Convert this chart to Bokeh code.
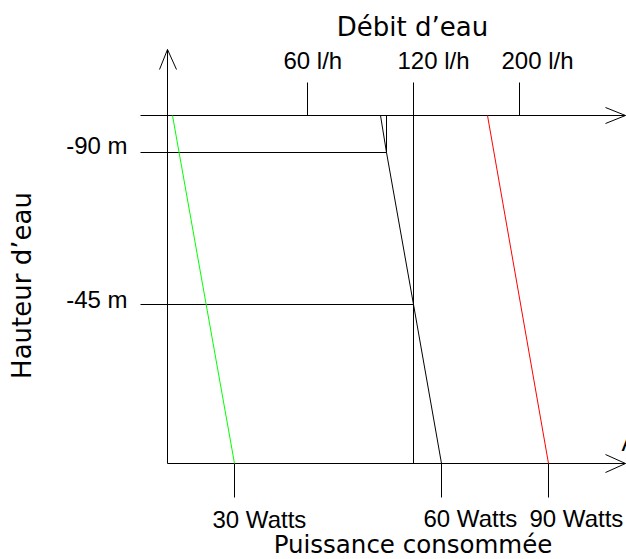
from bokeh.plotting import figure
from bokeh.models import Range1d
from bokeh.core.properties import value
from bokeh.embed import file_html
from bokeh.resources import INLINE
import math

# ---- chart values (schematic diagram units: x from vertical axis, y from bottom axis) ----
flow_labels = ["60 l/h", "120 l/h", "200 l/h"]
flow_x = [140, 246, 352]              # flow ticks on the top axis

power_labels = ["30 Watts", "60 Watts", "90 Watts"]
power_x = [67, 274, 381]              # power ticks on the bottom axis

height_labels = ["-90 m", "-45 m"]
height_y = [311, 159]                 # height levels on the vertical axis

top_level = 348                       # level of the top (flow) axis
bottom_level = 0                      # level of the bottom (power) axis

# pump curves: x position at each level
green_x = [5, 67]
green_y = [348, 0]
black_x = [213, 219, 246, 274]
black_y = [348, 311, 159, 0]
red_x = [320, 381]
red_y = [348, 0]

# ---- figure ----
p = figure(width=626, height=559, output_backend="svg", toolbar_location=None,
           x_range=Range1d(-167, 459), y_range=Range1d(-96, 463),
           min_border=0, min_border_left=0, min_border_right=0,
           min_border_top=0, min_border_bottom=0)
p.axis.visible = False
p.grid.visible = False
p.outline_line_color = None
p.background_fill_color = "white"
p.border_fill_color = "white"

lc = "black"
lw = 1

# vertical axis with arrow
p.segment(x0=[0], y0=[bottom_level], x1=[0], y1=[414], line_color=lc, line_width=lw)
p.segment(x0=[-8, 9], y0=[394, 394], x1=[0, 0], y1=[414, 414], line_color=lc, line_width=lw)

# top axis with arrow
p.segment(x0=[-27], y0=[top_level], x1=[458], y1=[top_level], line_color=lc, line_width=lw)
p.segment(x0=[438, 438], y0=[top_level + 8, top_level - 8], x1=[458, 458],
          y1=[top_level, top_level], line_color=lc, line_width=lw)

# bottom axis with arrow
p.segment(x0=[0], y0=[bottom_level], x1=[458], y1=[bottom_level], line_color=lc, line_width=lw)
p.segment(x0=[438, 438], y0=[bottom_level + 9, bottom_level - 9], x1=[458, 458],
          y1=[bottom_level, bottom_level], line_color=lc, line_width=lw)

# flow ticks (top)
p.segment(x0=flow_x, y0=[top_level] * 3, x1=flow_x, y1=[top_level + 33] * 3,
          line_color=lc, line_width=lw)
# 120 l/h reference line down to bottom axis
p.segment(x0=[flow_x[1]], y0=[top_level], x1=[flow_x[1]], y1=[bottom_level],
          line_color=lc, line_width=lw)

# power ticks (bottom)
p.segment(x0=power_x, y0=[bottom_level] * 3, x1=power_x, y1=[bottom_level - 34] * 3,
          line_color=lc, line_width=lw)

# height ticks, extended to the black curve
p.segment(x0=[-27, -27], y0=height_y, x1=[black_x[1], black_x[2]], y1=height_y,
          line_color=lc, line_width=lw)
# small vertical drop at -90 m
p.segment(x0=[black_x[1]], y0=[top_level], x1=[black_x[1]], y1=[height_y[0]],
          line_color=lc, line_width=lw)

# curves
p.line(green_x, green_y, line_color="#00ff00", line_width=1)
p.line(black_x, black_y, line_color="black", line_width=1)
p.line(red_x, red_y, line_color="#ff0000", line_width=1)

# tick labels
tick_font = value("Liberation Sans")
p.text(x=[116, 230, 334], y=[403, 403, 403], text=flow_labels, text_font=tick_font,
       text_font_size="24px", text_align="left", text_baseline="alphabetic", text_color="black")
p.text(x=[45, 256, 362], y=[-56, -55, -55], text=power_labels, text_font=tick_font,
       text_font_size="24px", text_align="left", text_baseline="alphabetic", text_color="black")
p.text(x=[-40, -40], y=[318, 164], text=height_labels, text_font=tick_font,
       text_font_size="24px", text_align="right", text_baseline="alphabetic", text_color="black")
# partially visible label at the right edge
p.text(x=[454], y=[21], text=["A"], text_font=tick_font,
       text_font_size="24px", text_align="left", text_baseline="alphabetic", text_color="black")

# axis titles
title_font = value("DejaVu Sans")
p.text(x=[245], y=[437], text=["Débit d\u2019eau"], text_font=title_font,
       text_font_size="26px", text_align="center", text_baseline="alphabetic", text_color="black")
p.text(x=[245.5], y=[-81], text=["Puissance consommée"], text_font=title_font,
       text_font_size="24.5px", text_align="center", text_baseline="alphabetic", text_color="black")
p.text(x=[-146], y=[178], text=["Hauteur d\u2019eau"], text_font=title_font, angle=math.pi / 2,
       text_font_size="26px", text_align="center", text_baseline="alphabetic", text_color="black")

open("out.html", "w").write(file_html(p, INLINE))
